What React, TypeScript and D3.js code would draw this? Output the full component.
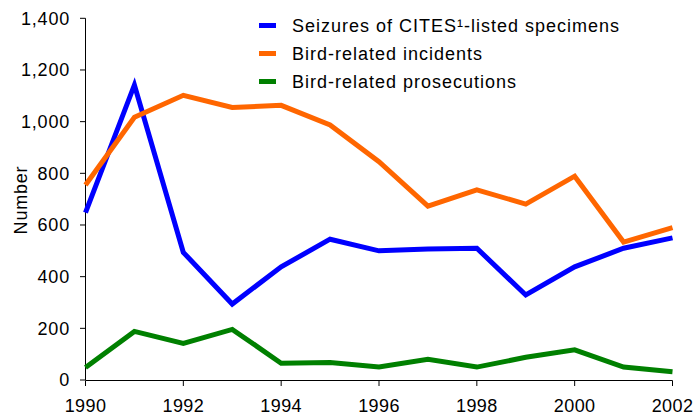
import React from 'react';
import * as d3 from 'd3';

const years = [1990, 1991, 1992, 1993, 1994, 1995, 1996, 1997, 1998, 1999, 2000, 2001, 2002];
const seizures = [648, 1142, 494, 294, 438, 545, 500, 507, 510, 329, 438, 510, 550];
const incidents = [755, 1017, 1102, 1055, 1063, 987, 845, 673, 736, 681, 789, 534, 590];
const prosecutions = [48, 188, 142, 196, 65, 68, 50, 80, 50, 88, 117, 50, 32];
const yTicks = [0, 200, 400, 600, 800, 1000, 1200, 1400];
const xTicks = [1990, 1992, 1994, 1996, 1998, 2000, 2002];

const seriesNames = ['Seizures of CITES\u00b9-listed specimens', 'Bird-related incidents', 'Bird-related prosecutions'];
const seriesColors = ['#0000ff', '#ff6600', '#008000'];

const width = 695;
const height = 419;
const font = 'Liberation Sans, Arial, sans-serif';

const App: React.FC = () => {
  const x = d3.scaleLinear().domain([1990, 2002]).range([85.5, 672.5]);
  const y = d3.scaleLinear().domain([0, 1400]).range([380, 18.3]);
  const fmt = d3.format(',');

  const line = d3.line<number>()
    .x((_, i) => x(years[i]))
    .y(d => y(d));

  const allSeries = [seizures, incidents, prosecutions];

  return (
    <svg width={width} height={height} style={{ position: 'absolute', left: 0, top: 0 }} fontFamily={font}>
      <rect width={width} height={height} fill="#ffffff" />

      {/* y axis */}
      <line x1={85.5} x2={85.5} y1={y(1400)} y2={y(0)} stroke="#000" strokeWidth={1} />
      {yTicks.map(t => (
        <g key={t}>
          <line x1={80} x2={85.5} y1={y(t)} y2={y(t)} stroke="#000" strokeWidth={1} />
          <text x={70} y={y(t)} dy="0.36em" textAnchor="end" fontSize={18} letterSpacing={0.8} fill="#000">{fmt(t)}</text>
        </g>
      ))}

      {/* x axis */}
      <line x1={x(1990)} x2={x(2002)} y1={380.5} y2={380.5} stroke="#000" strokeWidth={1} />
      {xTicks.map(t => (
        <g key={t}>
          <line x1={x(t)} x2={x(t)} y1={380.5} y2={386} stroke="#000" strokeWidth={1} />
          <text x={x(t)} y={412} textAnchor="middle" fontSize={18} letterSpacing={0.4} fill="#000">{t}</text>
        </g>
      ))}

      <text transform="translate(27,200) rotate(-90)" textAnchor="middle" fontSize={18} letterSpacing={0.8} fill="#000">Number</text>

      {allSeries.map((s, i) => (
        <path key={i} d={line(s) || ''} fill="none" stroke={seriesColors[i]} strokeWidth={5} />
      ))}

      {/* legend */}
      {seriesNames.map((name, i) => (
        <g key={name} transform={`translate(259,${25.5 + i * 28})`}>
          <line x1={0} x2={17} y1={0} y2={0} stroke={seriesColors[i]} strokeWidth={5} />
          <text x={33} y={0} dy="0.36em" fontSize={18} letterSpacing={1} fill="#000">{name}</text>
        </g>
      ))}
    </svg>
  );
};

export default App;
